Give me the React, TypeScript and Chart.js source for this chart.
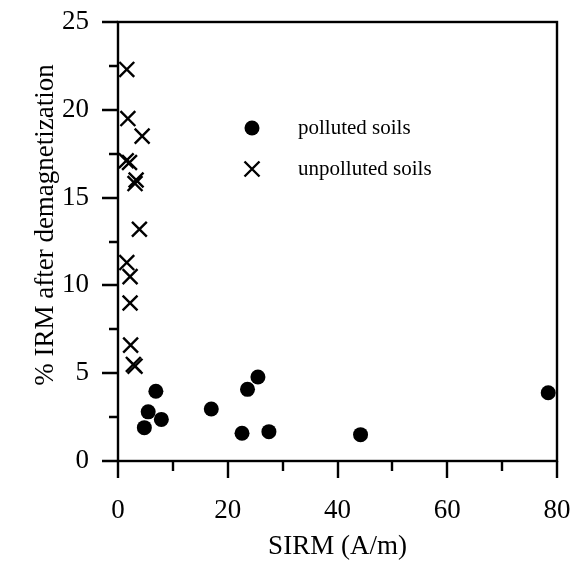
import React, { useEffect, useRef } from "react";
import { Chart, registerables } from "chart.js";

Chart.register(...registerables);

// Polluted soils (filled circles)
const pollutedX = [4.8, 5.5, 6.9, 7.9, 17.0, 22.6, 23.6, 25.5, 27.5, 44.2, 78.4];
const pollutedY = [1.9, 2.8, 3.97, 2.37, 2.96, 1.58, 4.08, 4.78, 1.67, 1.5, 3.89];

// Unpolluted soils (crosses)
const unpollutedX = [1.6, 1.8, 4.4, 1.5, 2.1, 3.3, 3.1, 3.9, 1.6, 2.2, 2.2, 2.3, 2.8, 3.1];
const unpollutedY = [22.3, 19.5, 18.5, 17.1, 17.0, 16.0, 15.8, 13.2, 11.3, 10.5, 9.0, 6.6, 5.5, 5.4];

const xMajorTicks = [0, 20, 40, 60, 80];
const xMinorTicks = [10, 30, 50, 70];
const yMajorTicks = [0, 5, 10, 15, 20, 25];
const yMinorTicks = [2.5, 7.5, 12.5, 17.5, 22.5];

const legendLabels = ["polluted soils", "unpolluted soils"];
const xTitle = "SIRM (A/m)";
const yTitle = "% IRM after demagnetization";

const FONT = "'Liberation Serif', 'Times New Roman', serif";

const framePlugin = {
  id: "frame",
  afterDraw(chart: any) {
    const { ctx, chartArea } = chart;
    const xs = chart.scales.x;
    const ys = chart.scales.y;
    const { left, right, top, bottom } = chartArea;
    ctx.save();
    ctx.strokeStyle = "#000";
    ctx.lineWidth = 2.4;
    ctx.lineCap = "butt";
    ctx.strokeRect(left, top, right - left, bottom - top);
    ctx.beginPath();
    xMajorTicks.forEach((v) => {
      const px = Math.round(xs.getPixelForValue(v));
      ctx.moveTo(px, bottom);
      ctx.lineTo(px, bottom + 17);
    });
    xMinorTicks.forEach((v) => {
      const px = Math.round(xs.getPixelForValue(v));
      ctx.moveTo(px, bottom);
      ctx.lineTo(px, bottom + 10);
    });
    yMajorTicks.forEach((v) => {
      const py = Math.round(ys.getPixelForValue(v));
      ctx.moveTo(left, py);
      ctx.lineTo(left - 16, py);
    });
    yMinorTicks.forEach((v) => {
      const py = Math.round(ys.getPixelForValue(v));
      ctx.moveTo(left, py);
      ctx.lineTo(left - 9, py);
    });
    ctx.stroke();

    // y axis title (slightly above centre, as in the reference)
    ctx.save();
    ctx.translate(46, 225);
    ctx.rotate(-Math.PI / 2);
    ctx.font = `27px ${FONT}`;
    ctx.fillStyle = "#000";
    ctx.textAlign = "center";
    ctx.textBaseline = "middle";
    ctx.fillText(yTitle, 0, 0);
    ctx.restore();

    // legend
    const lx = left + 134;
    const ty = top + 106;
    const uy = top + 147;
    ctx.fillStyle = "#000";
    ctx.beginPath();
    ctx.arc(lx, ty, 7.5, 0, Math.PI * 2);
    ctx.fill();
    ctx.lineWidth = 2.4;
    ctx.beginPath();
    const c = 7.5;
    ctx.moveTo(lx - c, uy - c);
    ctx.lineTo(lx + c, uy + c);
    ctx.moveTo(lx - c, uy + c);
    ctx.lineTo(lx + c, uy - c);
    ctx.stroke();
    ctx.font = `21px ${FONT}`;
    ctx.textAlign = "left";
    ctx.textBaseline = "middle";
    ctx.fillText(legendLabels[0], left + 180, ty);
    ctx.fillText(legendLabels[1], left + 180, uy);
    ctx.restore();
  },
};

export default function App() {
  const ref = useRef<HTMLCanvasElement | null>(null);
  useEffect(() => {
    if (!ref.current) return;
    const chart = new Chart(ref.current, {
      type: "scatter",
      data: {
        datasets: [
          {
            label: legendLabels[0],
            data: pollutedX.map((x, i) => ({ x, y: pollutedY[i] })),
            pointStyle: "circle",
            pointRadius: 7.5,
            backgroundColor: "#000",
            borderColor: "#000",
            borderWidth: 0,
          },
          {
            label: legendLabels[1],
            data: unpollutedX.map((x, i) => ({ x, y: unpollutedY[i] })),
            pointStyle: "crossRot",
            pointRadius: 10.5,
            backgroundColor: "#000",
            borderColor: "#000",
            borderWidth: 2.4,
          },
        ],
      },
      options: {
        responsive: false,
        animation: false,
        devicePixelRatio: 1,
        layout: { padding: { top: 22, right: 16, left: 0, bottom: 0 } },
        plugins: {
          legend: { display: false },
          tooltip: { enabled: false },
        },
        scales: {
          x: {
            type: "linear",
            min: 0,
            max: 80,
            grid: { display: false, drawTicks: false },
            border: { display: false },
            ticks: {
              stepSize: 20,
              color: "#000",
              font: { family: FONT, size: 27 },
              padding: 34,
            },
            title: {
              display: true,
              text: xTitle,
              color: "#000",
              font: { family: FONT, size: 27 },
              padding: { top: 0, bottom: 5 },
            },
            afterFit(scale: any) {
              scale.height = 107;
              scale.paddingLeft = 0;
              scale.paddingRight = 0;
            },
          },
          y: {
            type: "linear",
            min: 0,
            max: 25,
            grid: { display: false, drawTicks: false },
            border: { display: false },
            ticks: {
              stepSize: 5,
              color: "#000",
              font: { family: FONT, size: 27 },
              padding: 29,
            },
            title: { display: false },
            afterFit(scale: any) {
              scale.width = 118;
              scale.paddingTop = 0;
              scale.paddingBottom = 0;
            },
          },
        },
      },
      plugins: [framePlugin],
    });
    return () => chart.destroy();
  }, []);
  return (
    <div style={{ position: "fixed", left: 0, top: 0, width: 573, height: 568, background: "#fff" }}>
      <canvas ref={ref} width={573} height={568} style={{ width: 573, height: 568, display: "block" }} />
    </div>
  );
}
